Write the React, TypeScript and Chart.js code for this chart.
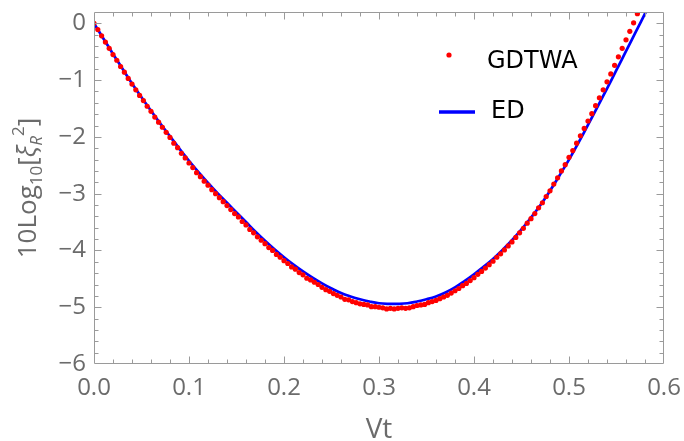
import { useEffect, useRef } from "react";
import { Chart, registerables } from "chart.js";

Chart.register(...registerables);

const xTicks = [0, 0.1, 0.2, 0.3, 0.4, 0.5, 0.6];
const yTicks = [-6, -5, -4, -3, -2, -1, 0];
const xTickLabels = ["0.0", "0.1", "0.2", "0.3", "0.4", "0.5", "0.6"];
const yTickLabels = ["\u22126", "\u22125", "\u22124", "\u22123", "\u22122", "\u22121", "0"];

const edTime = [
  0.0, 0.01, 0.02, 0.03, 0.04, 0.05, 0.06, 0.07, 0.08, 0.09,
  0.1, 0.11, 0.12, 0.13, 0.14, 0.15, 0.16, 0.17, 0.18, 0.19,
  0.2, 0.21, 0.22, 0.23, 0.24, 0.25, 0.26, 0.27, 0.28, 0.29,
  0.3, 0.31, 0.32, 0.33, 0.34, 0.35, 0.36, 0.37, 0.38, 0.39,
  0.4, 0.41, 0.42, 0.43, 0.44, 0.45, 0.46, 0.47, 0.48, 0.49,
  0.5, 0.51, 0.52, 0.53, 0.54, 0.55, 0.56, 0.57, 0.58, 0.59,
];
const edValues = [
  0.0, -0.27, -0.54, -0.8, -1.06, -1.3, -1.54, -1.77, -1.99, -2.21,
  -2.42, -2.62, -2.81, -2.99, -3.16, -3.33, -3.5, -3.67, -3.83, -3.98,
  -4.12, -4.25, -4.37, -4.48, -4.58, -4.67, -4.75, -4.81, -4.86, -4.9,
  -4.93, -4.94, -4.94, -4.93, -4.9, -4.86, -4.81, -4.74, -4.65, -4.54,
  -4.42, -4.29, -4.15, -3.99, -3.82, -3.63, -3.42, -3.2, -2.95, -2.68,
  -2.4, -2.1, -1.79, -1.47, -1.15, -0.82, -0.49, -0.16, 0.17, 0.5,
];

const gdTime = [
  0.0, 0.004, 0.008, 0.012, 0.016, 0.02, 0.024, 0.028, 0.032, 0.036,
  0.04, 0.044, 0.048, 0.052, 0.056, 0.06, 0.064, 0.068, 0.072, 0.076,
  0.08, 0.084, 0.088, 0.092, 0.096, 0.1, 0.104, 0.108, 0.112, 0.116,
  0.12, 0.124, 0.128, 0.132, 0.136, 0.14, 0.144, 0.148, 0.152, 0.156,
  0.16, 0.164, 0.168, 0.172, 0.176, 0.18, 0.184, 0.188, 0.192, 0.196,
  0.2, 0.204, 0.208, 0.212, 0.216, 0.22, 0.224, 0.228, 0.232, 0.236,
  0.24, 0.244, 0.248, 0.252, 0.256, 0.26, 0.264, 0.268, 0.272, 0.276,
  0.28, 0.284, 0.288, 0.292, 0.296, 0.3, 0.304, 0.308, 0.312, 0.316,
  0.32, 0.324, 0.328, 0.332, 0.336, 0.34, 0.344, 0.348, 0.352, 0.356,
  0.36, 0.364, 0.368, 0.372, 0.376, 0.38, 0.384, 0.388, 0.392, 0.396,
  0.4, 0.404, 0.408, 0.412, 0.416, 0.42, 0.424, 0.428, 0.432, 0.436,
  0.44, 0.444, 0.448, 0.452, 0.456, 0.46, 0.464, 0.468, 0.472, 0.476,
  0.48, 0.484, 0.488, 0.492, 0.496, 0.5, 0.504, 0.508, 0.512, 0.516,
  0.52, 0.524, 0.528, 0.532, 0.536, 0.54, 0.544, 0.548, 0.552, 0.556,
  0.56, 0.564, 0.568, 0.572,
];
const gdValues = [
  0.0, -0.11, -0.22, -0.33, -0.44, -0.55, -0.65, -0.76, -0.86, -0.97,
  -1.07, -1.17, -1.27, -1.36, -1.46, -1.55, -1.65, -1.74, -1.83, -1.92,
  -2.01, -2.11, -2.19, -2.29, -2.37, -2.46, -2.54, -2.63, -2.7, -2.78,
  -2.85, -2.93, -3.0, -3.07, -3.14, -3.21, -3.28, -3.35, -3.41, -3.49,
  -3.55, -3.63, -3.69, -3.76, -3.82, -3.88, -3.95, -4.0, -4.07, -4.12,
  -4.18, -4.23, -4.29, -4.33, -4.39, -4.43, -4.49, -4.52, -4.56, -4.6,
  -4.65, -4.69, -4.72, -4.76, -4.79, -4.82, -4.86, -4.87, -4.9, -4.92,
  -4.94, -4.95, -4.96, -4.99, -4.99, -5.0, -5.01, -5.03, -5.02, -5.03,
  -5.02, -5.01, -5.02, -5.01, -4.99, -4.97, -4.96, -4.95, -4.92, -4.9,
  -4.88, -4.85, -4.82, -4.79, -4.75, -4.71, -4.67, -4.62, -4.58, -4.53,
  -4.48, -4.42, -4.37, -4.31, -4.25, -4.19, -4.12, -4.06, -3.99, -3.92,
  -3.85, -3.77, -3.69, -3.61, -3.52, -3.44, -3.35, -3.25, -3.16, -3.05,
  -2.95, -2.83, -2.72, -2.6, -2.49, -2.36, -2.24, -2.11, -1.98, -1.85,
  -1.72, -1.59, -1.45, -1.31, -1.17, -1.03, -0.89, -0.74, -0.59, -0.44,
  -0.29, -0.14, 0.01, 0.17,
];

const GRAY_TEXT = "#6b6b6b";
const FRAME = "#9a9a9a";
const SANS = "'Open Sans', 'Noto Sans', sans-serif";

const zeroPad = (s: any) => {
  s.paddingLeft = 0;
  s.paddingRight = 0;
  s.paddingTop = 0;
  s.paddingBottom = 0;
};

const framePlugin = {
  id: "mmaFrame",
  afterDatasetsDraw(chart: any) {
    const { ctx, chartArea, scales } = chart;
    const { left, right, top, bottom } = chartArea;
    const xs = scales.x;
    const ys = scales.y;
    ctx.save();
    ctx.strokeStyle = FRAME;
    ctx.lineWidth = 1;
    const L = Math.round(left) + 0.5;
    const R = Math.round(right) - 0.5;
    const T = Math.round(top) + 0.5;
    const B = Math.round(bottom) - 0.5;
    ctx.beginPath();
    ctx.rect(L, T, R - L, B - T);
    ctx.stroke();
    ctx.beginPath();
    for (let k = 1; k < 30; k++) {
      const v = k * 0.02;
      const len = k % 5 === 0 ? 7 : 4;
      const px = Math.round(xs.getPixelForValue(v)) + 0.5;
      ctx.moveTo(px, B);
      ctx.lineTo(px, B - len);
      ctx.moveTo(px, T);
      ctx.lineTo(px, T + len);
    }
    for (let k = -29; k <= 0; k++) {
      const v = k * 0.2;
      const len = k % 5 === 0 ? 7 : 4;
      const py = Math.round(ys.getPixelForValue(v)) + 0.5;
      ctx.moveTo(L, py);
      ctx.lineTo(L + len, py);
      ctx.moveTo(R, py);
      ctx.lineTo(R - len, py);
    }
    ctx.stroke();
    ctx.restore();
  },
  afterDraw(chart: any) {
    const { ctx, chartArea } = chart;
    ctx.save();
    ctx.fillStyle = GRAY_TEXT;
    ctx.font = `28px ${SANS}`;
    ctx.textAlign = "center";
    ctx.textBaseline = "alphabetic";
    ctx.fillText("Vt", (chartArea.left + chartArea.right) / 2, 438);

    const cy = (chartArea.top + chartArea.bottom) / 2;
    ctx.translate(36, cy);
    ctx.rotate(-Math.PI / 2);
    ctx.textAlign = "left";
    const segs: [string, string, number][] = [
      ["10Log", `26px ${SANS}`, 0],
      ["10", `17px ${SANS}`, 6],
      ["[", `26px ${SANS}`, 0],
      ["\u03be", `italic 26px ${SANS}`, 0],
      ["R", `italic 17px ${SANS}`, 6],
      ["2", `17px ${SANS}`, -12],
      ["]", `26px ${SANS}`, 0],
    ];
    let total = 0;
    const widths: number[] = [];
    for (const [t, f] of segs) {
      ctx.font = f;
      const w = ctx.measureText(t).width;
      widths.push(w);
      total += w;
    }
    let xpos = -total / 2;
    segs.forEach(([t, f, dy], i) => {
      ctx.font = f;
      ctx.fillText(t, xpos, dy);
      xpos += widths[i];
    });
    ctx.restore();

    ctx.save();
    ctx.fillStyle = "#ff0000";
    ctx.beginPath();
    ctx.arc(449, 55, 2.6, 0, Math.PI * 2);
    ctx.fill();
    ctx.fillStyle = "#000000";
    ctx.font = "24px 'DejaVu Sans'";
    ctx.textAlign = "left";
    ctx.textBaseline = "middle";
    ctx.fillText("GDTWA", 487, 62);
    ctx.fillText("ED", 491, 112);
    ctx.strokeStyle = "#0000ff";
    ctx.lineWidth = 3.3;
    ctx.beginPath();
    ctx.moveTo(439, 112);
    ctx.lineTo(475, 112);
    ctx.stroke();
    ctx.restore();
  },
};

export default function App() {
  const ref = useRef<HTMLCanvasElement | null>(null);
  useEffect(() => {
    if (!ref.current) return;
    const chart = new Chart(ref.current, {
      type: "scatter",
      data: {
        datasets: [
          {
            type: "line",
            label: "ED",
            data: edTime.map((t, i) => ({ x: t, y: edValues[i] })),
            borderColor: "#0000ff",
            borderWidth: 2.7,
            pointRadius: 0,
            tension: 0.4,
            fill: false,
            order: 2,
          },
          {
            type: "scatter",
            label: "GDTWA",
            data: gdTime.map((t, i) => ({ x: t, y: gdValues[i] })),
            backgroundColor: "#ff0000",
            borderWidth: 0,
            pointRadius: 2.6,
            pointHoverRadius: 2.6,
            order: 1,
          },
        ] as any,
      },
      options: {
        animation: false,
        responsive: false,
        devicePixelRatio: 1,
        events: [],
        layout: { padding: { left: 0, right: 20, top: 12, bottom: 0 } },
        plugins: { legend: { display: false }, tooltip: { enabled: false } },
        scales: {
          x: {
            type: "linear",
            min: 0,
            max: 0.6,
            afterBuildTicks: (s: any) => {
              s.ticks = xTicks.map((v) => ({ value: v }));
            },
            afterFit: (s: any) => {
              s.height = 77;
              zeroPad(s);
            },
            ticks: {
              callback: (v: any) => xTickLabels[xTicks.findIndex((t) => Math.abs(t - Number(v)) < 1e-9)] ?? "",
              color: GRAY_TEXT,
              font: { family: SANS, size: 24, lineHeight: 1 },
              padding: 12,
              maxRotation: 0,
              autoSkip: false,
            },
            grid: { display: false, drawTicks: false },
            border: { display: false },
          },
          y: {
            type: "linear",
            min: -6,
            max: 0.2,
            afterBuildTicks: (s: any) => {
              s.ticks = yTicks.map((v) => ({ value: v }));
            },
            afterFit: (s: any) => {
              s.width = 94;
              zeroPad(s);
            },
            ticks: {
              callback: (v: any) => yTickLabels[yTicks.findIndex((t) => Math.abs(t - Number(v)) < 1e-9)] ?? "",
              color: GRAY_TEXT,
              font: { family: SANS, size: 24, lineHeight: 1 },
              padding: 8,
              autoSkip: false,
            },
            grid: { display: false, drawTicks: false },
            border: { display: false },
          },
        },
      },
      plugins: [framePlugin],
    } as any);
    return () => chart.destroy();
  }, []);
  return (
    <div style={{ position: "fixed", left: 0, top: 0, width: 684, height: 441, background: "#fff" }}>
      <canvas ref={ref} width={684} height={441} />
    </div>
  );
}
